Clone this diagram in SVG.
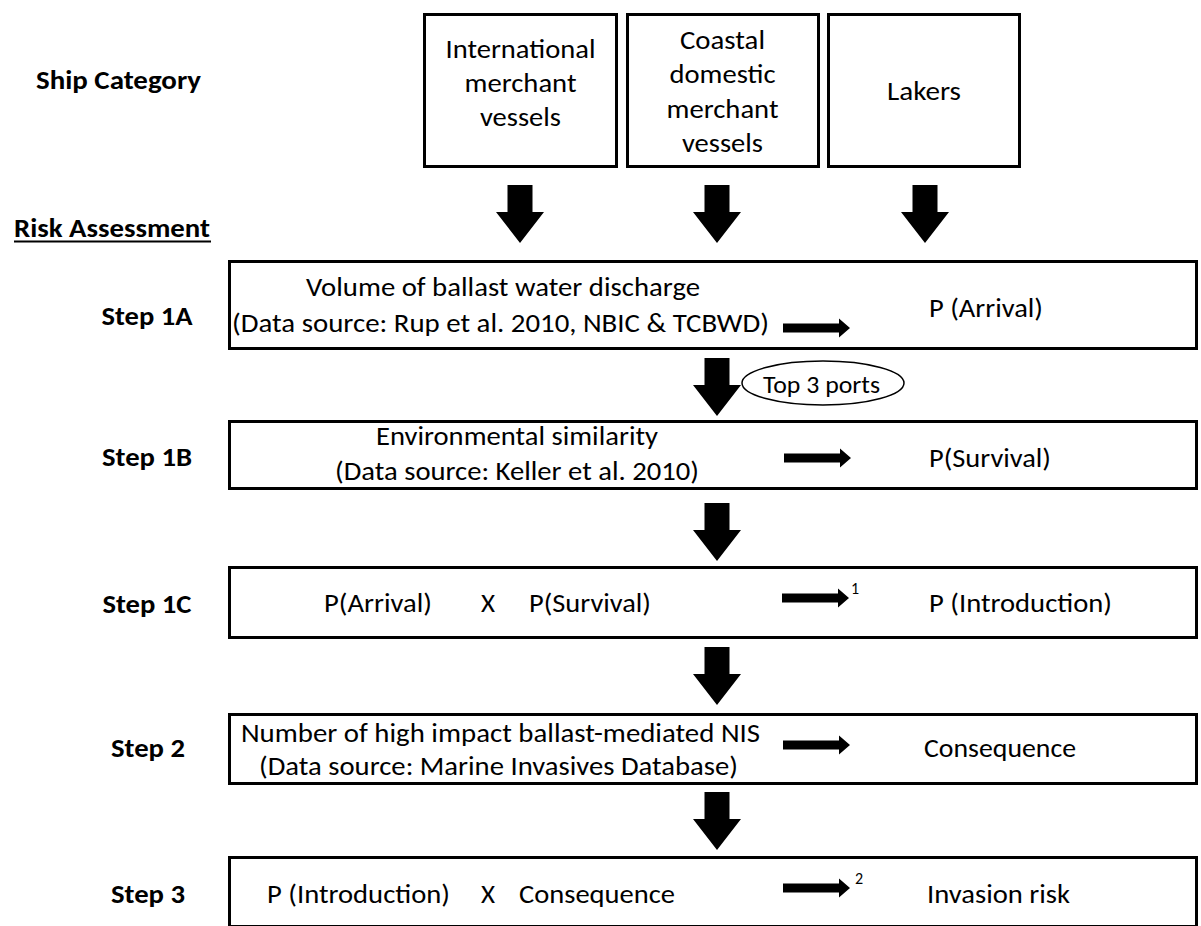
<svg xmlns="http://www.w3.org/2000/svg" xmlns:xlink="http://www.w3.org/1999/xlink" width="1201" height="926" viewBox="0 0 1201 926">
<style>
  .box { fill: #ffffff; stroke: #000000; stroke-width: 3; }
  .t { font-family: Carlito, Lato, "Liberation Sans", sans-serif; font-size: 27px; fill: #000000; }
  .b { font-family: Carlito, Lato, "Liberation Sans", sans-serif; font-size: 27px; font-weight: bold; fill: #000000; }
  .m { text-anchor: middle; }
  .sup { font-family: Carlito, Lato, "Liberation Sans", sans-serif; font-size: 16px; fill: #000000; }
  .arrow { fill: #000000; stroke: none; }
  .oval { fill: #ffffff; stroke: #000000; stroke-width: 1.5; }
</style>
<defs>
  <path id="bigArrow" d="M -12.5 0 L 12.5 0 L 12.5 27 L 24 27 L 0 58 L -24 27 L -12.5 27 Z"/>
  <path id="smallArrow" d="M 0 -4.5 L 56 -4.5 L 56 -9.5 L 67 0 L 56 9.5 L 56 4.5 L 0 4.5 Z"/>
</defs>
<rect width="1201" height="926" fill="#ffffff"/>

<text class="b" x="36" y="89" textLength="165" lengthAdjust="spacingAndGlyphs">Ship Category</text>
<g id="risk-assessment-label">
  <text class="b" x="14" y="237" textLength="196" lengthAdjust="spacingAndGlyphs">Risk Assessment</text>
  <line x1="14" y1="241.5" x2="211" y2="241.5" stroke="#000" stroke-width="2"/>
</g>

<g id="ship-international">
  <rect class="box" x="424.5" y="14.5" width="192" height="152"/>
  <text class="t m" x="520.5" y="58" textLength="150" lengthAdjust="spacingAndGlyphs">International</text>
  <text class="t m" x="520.5" y="92" textLength="112" lengthAdjust="spacingAndGlyphs">merchant</text>
  <text class="t m" x="520.5" y="126" textLength="81" lengthAdjust="spacingAndGlyphs">vessels</text>
</g>
<g id="ship-coastal">
  <rect class="box" x="627.5" y="14.5" width="191" height="152"/>
  <text class="t m" x="722.5" y="49" textLength="85" lengthAdjust="spacingAndGlyphs">Coastal</text>
  <text class="t m" x="722.5" y="83" textLength="106" lengthAdjust="spacingAndGlyphs">domestic</text>
  <text class="t m" x="722.5" y="118" textLength="112" lengthAdjust="spacingAndGlyphs">merchant</text>
  <text class="t m" x="722.5" y="152" textLength="81" lengthAdjust="spacingAndGlyphs">vessels</text>
</g>
<g id="ship-lakers">
  <rect class="box" x="828.5" y="14.5" width="191" height="152"/>
  <text class="t m" x="924" y="100" textLength="74" lengthAdjust="spacingAndGlyphs">Lakers</text>
</g>

<g id="step-labels">
  <text class="b m" x="147" y="325" textLength="91" lengthAdjust="spacingAndGlyphs">Step 1A</text>
  <text class="b m" x="147" y="466" textLength="90" lengthAdjust="spacingAndGlyphs">Step 1B</text>
  <text class="b m" x="147" y="613" textLength="89" lengthAdjust="spacingAndGlyphs">Step 1C</text>
  <text class="b m" x="148" y="757" textLength="74" lengthAdjust="spacingAndGlyphs">Step 2</text>
  <text class="b m" x="148" y="903" textLength="74" lengthAdjust="spacingAndGlyphs">Step 3</text>
</g>

<g id="step-1a">
  <rect class="box" x="229.5" y="261.5" width="967" height="87"/>
  <text class="t m" x="503" y="296" textLength="394" lengthAdjust="spacingAndGlyphs">Volume of ballast water discharge</text>
  <text class="t" x="232" y="332" textLength="537" lengthAdjust="spacingAndGlyphs">(Data source: Rup et al. 2010, NBIC &amp; TCBWD)</text>
  <text class="t" x="929" y="317" textLength="114" lengthAdjust="spacingAndGlyphs">P (Arrival)</text>
</g>

<g id="top-3-ports">
  <ellipse class="oval" cx="823" cy="383" rx="81" ry="22"/>
  <text class="t" x="763" y="393" style="font-size:24px" textLength="117" lengthAdjust="spacingAndGlyphs">Top 3 ports</text>
</g>

<g id="step-1b">
  <rect class="box" x="229.5" y="421.5" width="967" height="67"/>
  <text class="t m" x="517" y="445" textLength="282" lengthAdjust="spacingAndGlyphs">Environmental similarity</text>
  <text class="t m" x="517" y="480" textLength="364" lengthAdjust="spacingAndGlyphs">(Data source: Keller et al. 2010)</text>
  <text class="t" x="929" y="467" textLength="122" lengthAdjust="spacingAndGlyphs">P(Survival)</text>
</g>

<g id="step-1c">
  <rect class="box" x="229.5" y="567.5" width="967" height="70"/>
  <text class="t" x="324" y="612" textLength="108" lengthAdjust="spacingAndGlyphs">P(Arrival)</text>
  <text class="t" x="481" y="612">X</text>
  <text class="t" x="529" y="612" textLength="122" lengthAdjust="spacingAndGlyphs">P(Survival)</text>
  <text class="sup" x="851" y="594">1</text>
  <text class="t" x="929" y="612" textLength="183" lengthAdjust="spacingAndGlyphs">P (Introduction)</text>
</g>

<g id="step-2">
  <rect class="box" x="229.5" y="714.5" width="967" height="69"/>
  <text class="t" x="241" y="742" textLength="519" lengthAdjust="spacingAndGlyphs">Number of high impact ballast-mediated NIS</text>
  <text class="t" x="259" y="775" textLength="479" lengthAdjust="spacingAndGlyphs">(Data source: Marine Invasives Database)</text>
  <text class="t" x="924" y="757" textLength="152" lengthAdjust="spacingAndGlyphs">Consequence</text>
</g>

<g id="step-3">
  <rect class="box" x="229.5" y="857.5" width="967" height="69"/>
  <text class="t" x="267" y="903" textLength="183" lengthAdjust="spacingAndGlyphs">P (Introduction)</text>
  <text class="t" x="481" y="903">X</text>
  <text class="t" x="519" y="903" textLength="156" lengthAdjust="spacingAndGlyphs">Consequence</text>
  <text class="sup" x="855" y="884">2</text>
  <text class="t" x="927" y="903" textLength="143" lengthAdjust="spacingAndGlyphs">Invasion risk</text>
</g>

<g id="connectors">
  <use xlink:href="#bigArrow" class="arrow" x="520" y="185"/>
  <use xlink:href="#bigArrow" class="arrow" x="717" y="185"/>
  <use xlink:href="#bigArrow" class="arrow" x="925" y="185"/>
  <use xlink:href="#bigArrow" class="arrow" x="717" y="358"/>
  <use xlink:href="#bigArrow" class="arrow" x="717" y="503"/>
  <use xlink:href="#bigArrow" class="arrow" x="717" y="647"/>
  <use xlink:href="#bigArrow" class="arrow" x="717" y="792"/>
  <use xlink:href="#smallArrow" class="arrow" x="783" y="328"/>
  <use xlink:href="#smallArrow" class="arrow" x="784" y="458"/>
  <use xlink:href="#smallArrow" class="arrow" x="782" y="598"/>
  <use xlink:href="#smallArrow" class="arrow" x="783" y="745"/>
  <use xlink:href="#smallArrow" class="arrow" x="783" y="888"/>
</g>
</svg>
